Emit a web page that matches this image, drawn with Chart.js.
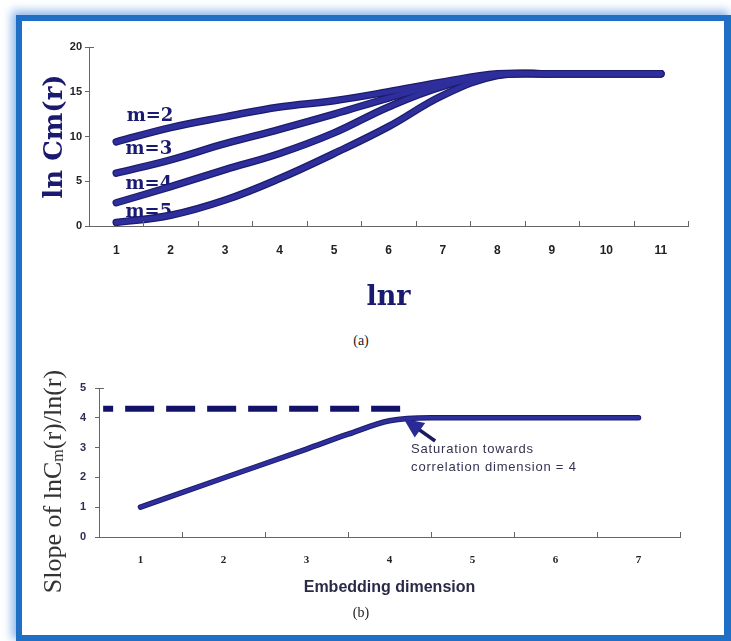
<!DOCTYPE html>
<html>
<head>
<meta charset="utf-8">
<script src="https://cdn.jsdelivr.net/npm/chart.js@4.4.0/dist/chart.umd.min.js"></script>
<style>
  body { margin: 0; width: 731px; height: 641px; background: #fff; position: relative; overflow: hidden; }
  .frame {
    position: absolute; left: 16px; top: 15px; width: 715px; height: 626px;
    box-sizing: border-box; border: 6px solid #1f6fc7; border-right-width: 7px;
    box-shadow: -3px -3px 9px 1px rgba(90, 150, 225, 0.7);
  }
  #wrapA { position: absolute; left: 16px; top: 22px; width: 700px; height: 300px; }
  #wrapB { position: absolute; left: 22px; top: 345px; width: 690px; height: 280px; }
  .cap {
    position: absolute; transform: translate(-50%, -50%);
    font-family: 'Liberation Serif', serif; font-size: 14px; color: #222;
  }
</style>
</head>
<body>
<div class="frame"></div>
<div id="wrapA"><canvas id="chartA"></canvas></div>
<div class="cap" style="left:361px; top:341px;">(a)</div>
<div id="wrapB"><canvas id="chartB"></canvas></div>
<div class="cap" style="left:361px; top:613px;">(b)</div>

<script>
// (a) correlation integral vs ln r
const lnR = [1, 2, 3, 4, 5, 6, 7, 8, 9, 10, 11];
const lnC_m2 = [9.4, 11.0, 12.2, 13.3, 14.0, 15.0, 16.1, 17.0, 17.0, 17.0, 17.0];
const lnC_m3 = [5.9, 7.4, 9.2, 10.8, 12.5, 14.3, 15.9, 16.9, 17.0, 17.0, 17.0];
const lnC_m4 = [2.6, 4.4, 6.3, 8.1, 10.4, 13.3, 15.6, 16.9, 17.0, 17.0, 17.0];
const lnC_m5 = [0.4, 1.2, 2.9, 5.3, 8.1, 11.1, 14.6, 16.8, 17.0, 17.0, 17.0];
const mLabels = ['m=2', 'm=3', 'm=4', 'm=5'];
const lnCTicks = [0, 5, 10, 15, 20];

// (b) slope vs embedding dimension
const embDim = [1, 2, 3, 4, 5, 6, 7];
const slopeX = [1, 2, 3, 3.5, 4, 4.5, 5, 6, 7];
const slopeY = [1.0, 1.98, 2.95, 3.45, 3.9, 4.0, 4.0, 4.0, 4.0];
const satLevel = 4.3;
const satFrom = 0.55;
const satTo = 4.13;
const slopeTicks = [0, 1, 2, 3, 4, 5];

const navy = '#1a1a70';
const lineDark = '#1c1c6c';
const lineMid = '#2e2e9c';

// inward tick marks on the x axis (between labels) and a cap on top of the y axis
const axisMarks = {
  id: 'axisMarks',
  afterDraw(chart) {
    const { ctx, chartArea, scales: { x } } = chart;
    ctx.save();
    ctx.strokeStyle = '#666';
    ctx.lineWidth = 1;
    ctx.beginPath();
    for (let v = x.min + 1; v <= x.max + 0.001; v++) {
      const px = Math.round(x.getPixelForValue(v)) + 0.5;
      ctx.moveTo(px, chartArea.bottom);
      ctx.lineTo(px, chartArea.bottom - 5);
    }
    ctx.moveTo(chartArea.left, Math.round(chartArea.top) + 0.5);
    ctx.lineTo(chartArea.left + 5, Math.round(chartArea.top) + 0.5);
    ctx.stroke();
    ctx.restore();
  }
};

// m=.. labels next to the curve starts, drawn under the curves
const mLabelAt = [[1.62, 12.2], [1.6, 8.6], [1.6, 4.7], [1.6, 1.5]];
const curveLabels = {
  id: 'curveLabels',
  beforeDatasetsDraw(chart) {
    const { ctx, scales: { x, y } } = chart;
    ctx.save();
    ctx.font = 'bold 18px "DejaVu Serif"';
    ctx.fillStyle = navy;
    ctx.textAlign = 'center';
    ctx.textBaseline = 'middle';
    mLabels.forEach((t, i) => {
      ctx.fillText(t, x.getPixelForValue(mLabelAt[i][0]), y.getPixelForValue(mLabelAt[i][1]));
    });
    ctx.restore();
  }
};

function curvePair(data, i) {
  const pts = lnR.map((v, k) => ({ x: v, y: data[k] }));
  return [
    { label: mLabels[i], data: pts, borderColor: lineMid, borderWidth: 5, order: 1 },
    { label: mLabels[i] + ' edge', data: pts, borderColor: lineDark, borderWidth: 7.5, order: 2 }
  ];
}

const seriesA = [lnC_m2, lnC_m3, lnC_m4, lnC_m5];
const datasetsA = [];
seriesA.forEach((s, i) => datasetsA.push(...curvePair(s, i)));

new Chart(document.getElementById('chartA'), {
  type: 'line',
  data: { datasets: datasetsA },
  options: {
    responsive: true,
    maintainAspectRatio: false,
    animation: false,
    layout: { padding: { top: 25, right: 28, left: 0, bottom: 0 } },
    elements: {
      point: { radius: 0 },
      line: { tension: 0.4, borderCapStyle: 'round', borderJoinStyle: 'round' }
    },
    plugins: { legend: { display: false }, tooltip: { enabled: false } },
    scales: {
      x: {
        type: 'linear', min: 0.5, max: 11.5,
        afterBuildTicks: s => { s.ticks = lnR.map(v => ({ value: v })); },
        afterFit: s => { s.height = 96; },
        grid: { drawOnChartArea: false, drawTicks: false },
        border: { color: '#666' },
        ticks: { padding: 17, color: '#222', font: { family: 'Liberation Sans', weight: 'bold', size: 12 } },
        title: {
          display: true, text: 'lnr', color: navy,
          font: { family: 'DejaVu Serif', weight: 'bold', size: 27 },
          padding: { top: 0, bottom: 8 }
        }
      },
      y: {
        min: 0, max: 20,
        afterBuildTicks: s => { s.ticks = lnCTicks.map(v => ({ value: v })); },
        afterFit: s => { s.width = 73; },
        grid: { drawOnChartArea: false, drawTicks: true, tickLength: 4, color: '#666' },
        border: { color: '#666' },
        ticks: { padding: 3, color: '#222', font: { family: 'Liberation Sans', weight: 'bold', size: 11 } },
        title: {
          display: true, text: 'ln Cm(r)', color: navy,
          font: { family: 'DejaVu Serif', weight: 'bold', size: 26 },
          padding: { top: 24, bottom: 0 }
        }
      }
    }
  },
  plugins: [axisMarks, curveLabels]
});

// y title with subscript m, and the saturation arrow note
const slopeNotes = {
  id: 'slopeNotes',
  afterDraw(chart) {
    const { ctx, chartArea, scales: { x, y } } = chart;
    ctx.save();

    // rotated axis title
    const big = '26px "Liberation Serif"';
    const small = '16px "Liberation Serif"';
    const parts = [['Slope of lnC', big, 0], ['m', small, 5], ['(r)/ln(r)', big, 0]];
    let total = 0;
    parts.forEach(p => { ctx.font = p[1]; total += ctx.measureText(p[0]).width; });
    ctx.translate(y.left + 32, (chartArea.top + chartArea.bottom) / 2 + 19);
    ctx.rotate(-Math.PI / 2);
    ctx.fillStyle = '#333';
    ctx.textBaseline = 'middle';
    let cx = -total / 2;
    parts.forEach(p => {
      ctx.font = p[1];
      ctx.fillText(p[0], cx, p[2]);
      cx += ctx.measureText(p[0]).width;
    });
    ctx.restore();

    // arrow pointing at the plateau
    ctx.save();
    const tipX = x.getPixelForValue(4.17), tipY = y.getPixelForValue(3.97);
    const tailX = x.getPixelForValue(4.55), tailY = y.getPixelForValue(3.22);
    const ang = Math.atan2(tipY - tailY, tipX - tailX);
    ctx.strokeStyle = '#1c1c5c';
    ctx.lineWidth = 3.5;
    ctx.beginPath();
    ctx.moveTo(tailX, tailY);
    ctx.lineTo(tipX - 12 * Math.cos(ang), tipY - 12 * Math.sin(ang));
    ctx.stroke();
    ctx.fillStyle = '#2a2a96';
    ctx.beginPath();
    ctx.moveTo(tipX, tipY);
    ctx.lineTo(tipX - 20 * Math.cos(ang) + 9 * Math.sin(ang), tipY - 20 * Math.sin(ang) - 9 * Math.cos(ang));
    ctx.lineTo(tipX - 20 * Math.cos(ang) - 9 * Math.sin(ang), tipY - 20 * Math.sin(ang) + 9 * Math.cos(ang));
    ctx.closePath();
    ctx.fill();

    ctx.font = '13px "Liberation Sans"';
    ctx.letterSpacing = '0.8px';
    ctx.fillStyle = '#333350';
    ctx.textBaseline = 'middle';
    const tx = x.getPixelForValue(4.26);
    ctx.fillText('Saturation towards', tx, y.getPixelForValue(2.95));
    ctx.fillText('correlation dimension = 4', tx, y.getPixelForValue(2.33));
    ctx.restore();
  }
};

const slopePts = slopeX.map((v, k) => ({ x: v, y: slopeY[k] }));

new Chart(document.getElementById('chartB'), {
  type: 'line',
  data: {
    datasets: [
      {
        label: 'saturation level',
        data: [{ x: satFrom, y: satLevel }, { x: satTo, y: satLevel }],
        borderColor: '#12126a', borderWidth: 6,
        borderDash: [29, 12], borderDashOffset: 19, borderCapStyle: 'butt', order: 0
      },
      { label: 'slope', data: slopePts, borderColor: lineMid, borderWidth: 3.5, order: 1 },
      { label: 'slope edge', data: slopePts, borderColor: lineDark, borderWidth: 5.5, order: 2 }
    ]
  },
  options: {
    responsive: true,
    maintainAspectRatio: false,
    animation: false,
    layout: { padding: { top: 43, right: 32, left: 0, bottom: 0 } },
    elements: {
      point: { radius: 0 },
      line: { cubicInterpolationMode: 'monotone', borderCapStyle: 'round', borderJoinStyle: 'round' }
    },
    plugins: { legend: { display: false }, tooltip: { enabled: false } },
    scales: {
      x: {
        type: 'linear', min: 0.5, max: 7.5,
        afterBuildTicks: s => { s.ticks = embDim.map(v => ({ value: v })); },
        afterFit: s => { s.height = 88; },
        grid: { drawOnChartArea: false, drawTicks: false },
        border: { color: '#666' },
        ticks: { padding: 17, color: '#222', font: { family: 'Liberation Serif', weight: 'bold', size: 11 } },
        title: {
          display: true, text: 'Embedding dimension', color: '#2a2a48',
          font: { family: 'Liberation Sans', weight: 'bold', size: 16 },
          padding: { top: 0, bottom: 28 }
        }
      },
      y: {
        min: 0, max: 5,
        afterBuildTicks: s => { s.ticks = slopeTicks.map(v => ({ value: v })); },
        afterFit: s => { s.width = 77; },
        grid: { drawOnChartArea: false, drawTicks: true, tickLength: 4, color: '#666' },
        border: { color: '#666' },
        ticks: { padding: 9, color: '#2d2d5a', font: { family: 'Liberation Sans', weight: 'bold', size: 11 } }
      }
    }
  },
  plugins: [axisMarks, slopeNotes]
});
</script>
</body>
</html>
